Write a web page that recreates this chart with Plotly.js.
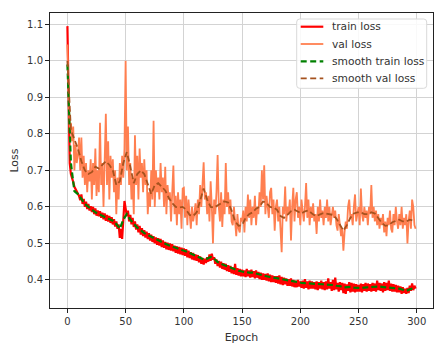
<!DOCTYPE html>
<html>
<head>
<meta charset="utf-8">
<script src="https://cdn.plot.ly/plotly-3.0.1.min.js"></script>
<style>html,body{margin:0;padding:0;background:#fff;}#chart{width:446px;height:355px;}</style>
</head>
<body>
<div id="chart"></div>
<script>
// Per-epoch values (epochs 0..299)
const trainLoss = [
1.095,0.84,0.72,0.69,0.675,0.668,0.655,0.648,0.64,0.635,
0.630,0.618,0.634,0.608,0.622,0.600,0.614,0.594,0.608,0.590,
0.602,0.586,0.600,0.580,0.596,0.576,0.590,0.574,0.588,0.570,
0.584,0.566,0.582,0.562,0.578,0.560,0.575,0.556,0.572,0.552,
0.566,0.546,0.560,0.540,0.552,0.515,0.540,0.512,0.585,0.616,
0.596,0.575,0.590,0.560,0.578,0.552,0.570,0.545,0.560,0.538,
0.552,0.530,0.548,0.524,0.542,0.520,0.536,0.516,0.532,0.512,
0.528,0.508,0.524,0.504,0.520,0.500,0.516,0.496,0.514,0.494,
0.512,0.490,0.508,0.488,0.504,0.484,0.502,0.482,0.500,0.480,
0.498,0.478,0.494,0.474,0.492,0.472,0.490,0.470,0.488,0.468,
0.486,0.466,0.484,0.462,0.480,0.460,0.476,0.456,0.474,0.454,
0.470,0.452,0.468,0.448,0.464,0.444,0.460,0.442,0.458,0.446,
0.462,0.450,0.470,0.452,0.472,0.456,0.462,0.444,0.456,0.438,
0.452,0.434,0.450,0.430,0.446,0.428,0.444,0.424,0.440,0.422,
0.438,0.418,0.434,0.416,0.444,0.414,0.432,0.412,0.430,0.410,
0.428,0.410,0.426,0.408,0.430,0.410,0.426,0.406,0.428,0.408,
0.424,0.404,0.426,0.406,0.422,0.402,0.420,0.400,0.418,0.400,
0.416,0.398,0.418,0.396,0.414,0.394,0.412,0.394,0.410,0.392,
0.410,0.390,0.412,0.388,0.408,0.386,0.406,0.388,0.404,0.384,
0.402,0.384,0.404,0.382,0.400,0.380,0.398,0.380,0.400,0.382,
0.396,0.378,0.398,0.376,0.402,0.378,0.396,0.374,0.398,0.376,
0.396,0.376,0.394,0.374,0.396,0.372,0.394,0.376,0.398,0.374,
0.394,0.372,0.396,0.374,0.404,0.376,0.394,0.370,0.400,0.372,
0.406,0.374,0.392,0.368,0.394,0.372,0.392,0.364,0.390,0.362,
0.388,0.370,0.394,0.366,0.392,0.368,0.390,0.366,0.388,0.368,
0.386,0.368,0.390,0.366,0.388,0.370,0.392,0.368,0.390,0.370,
0.388,0.368,0.392,0.370,0.390,0.368,0.398,0.372,0.392,0.370,
0.390,0.366,0.394,0.370,0.392,0.372,0.398,0.370,0.390,0.368,
0.388,0.368,0.386,0.366,0.384,0.366,0.382,0.362,0.380,0.364,
0.376,0.362,0.378,0.364,0.384,0.370,0.390,0.372,0.384,0.376
];
const valLoss = [
1.045,0.90,0.81,0.83,0.78,0.82,0.70,0.77,0.72,0.74,
0.79,0.70,0.79,0.68,0.74,0.66,0.72,0.64,0.70,0.67,
0.73,0.62,0.72,0.66,0.76,0.63,0.70,0.64,0.83,0.66,
0.72,0.60,0.76,0.855,0.66,0.78,0.62,0.74,0.68,0.73,
0.64,0.70,0.58,0.68,0.62,0.72,0.66,0.74,0.68,0.76,
1.00,0.70,0.82,0.66,0.72,0.62,0.68,0.58,0.796,0.66,
0.74,0.62,0.76,0.68,0.72,0.64,0.73,0.66,0.70,0.58,
0.64,0.60,0.70,0.62,0.836,0.60,0.70,0.64,0.68,0.62,
0.72,0.64,0.68,0.60,0.71,0.58,0.66,0.62,0.64,0.56,
0.64,0.713,0.58,0.63,0.55,0.64,0.58,0.62,0.54,0.65,
0.652,0.57,0.63,0.55,0.62,0.58,0.54,0.60,0.56,0.58,
0.61,0.55,0.62,0.58,0.66,0.60,0.69,0.722,0.62,0.64,
0.58,0.63,0.56,0.67,0.60,0.50,0.62,0.58,0.64,0.742,
0.60,0.56,0.64,0.545,0.62,0.58,0.72,0.60,0.64,0.58,
0.62,0.56,0.55,0.60,0.56,0.52,0.58,0.54,0.53,0.57,
0.56,0.59,0.53,0.60,0.56,0.634,0.57,0.62,0.55,0.60,
0.57,0.63,0.55,0.60,0.58,0.64,0.60,0.70,0.62,0.714,
0.58,0.63,0.60,0.57,0.64,0.652,0.58,0.62,0.535,0.60,
0.62,0.56,0.60,0.54,0.476,0.60,0.58,0.656,0.56,0.60,
0.58,0.62,0.508,0.60,0.652,0.56,0.62,0.64,0.57,0.60,
0.55,0.62,0.58,0.56,0.60,0.665,0.57,0.62,0.55,0.60,
0.57,0.61,0.56,0.58,0.526,0.60,0.56,0.62,0.57,0.59,
0.55,0.60,0.57,0.62,0.56,0.60,0.55,0.58,0.60,0.57,
0.59,0.55,0.535,0.58,0.55,0.52,0.54,0.48,0.53,0.56,
0.54,0.60,0.62,0.57,0.58,0.55,0.60,0.634,0.56,0.58,
0.60,0.55,0.65,0.58,0.56,0.60,0.57,0.59,0.55,0.60,
0.58,0.66,0.57,0.60,0.56,0.59,0.55,0.58,0.54,0.57,
0.55,0.58,0.53,0.56,0.52,0.57,0.55,0.59,0.54,0.53,
0.58,0.55,0.60,0.56,0.54,0.58,0.55,0.60,0.54,0.57,
0.55,0.58,0.50,0.56,0.59,0.54,0.62,0.60,0.55,0.54
];
// Smoothed curves read every 3 epochs (0,3,...,297)
const smoothStep = 3;
const smoothTrain = [
0.99,0.72,0.643,0.635,0.622,0.608,0.60,0.592,0.585,0.58,
0.575,0.571,0.567,0.562,0.553,0.54,0.565,0.58,0.565,0.553,
0.543,0.536,0.528,0.523,0.518,0.513,0.507,0.503,0.499,0.495,
0.491,0.488,0.484,0.481,0.478,0.474,0.470,0.466,0.461,0.456,
0.458,0.463,0.458,0.449,0.444,0.44,0.437,0.432,0.429,0.425,
0.423,0.421,0.42,0.42,0.417,0.415,0.413,0.41,0.408,0.406,
0.405,0.403,0.401,0.398,0.397,0.395,0.394,0.392,0.391,0.39,
0.39,0.389,0.388,0.388,0.387,0.387,0.386,0.384,0.383,0.379,
0.381,0.381,0.379,0.378,0.378,0.379,0.38,0.38,0.381,0.382,
0.381,0.38,0.38,0.379,0.378,0.376,0.373,0.37,0.374,0.377
];
const smoothVal = [
1.0,0.81,0.785,0.76,0.725,0.70,0.69,0.695,0.71,0.705,
0.715,0.725,0.715,0.70,0.66,0.67,0.72,0.75,0.71,0.665,
0.69,0.70,0.69,0.665,0.635,0.66,0.665,0.655,0.645,0.625,
0.61,0.60,0.598,0.60,0.592,0.578,0.575,0.585,0.62,0.65,
0.62,0.60,0.598,0.605,0.61,0.615,0.612,0.59,0.56,0.548,
0.55,0.57,0.58,0.585,0.595,0.60,0.615,0.61,0.60,0.598,
0.592,0.575,0.57,0.578,0.588,0.592,0.588,0.582,0.588,0.59,
0.582,0.575,0.578,0.582,0.582,0.58,0.578,0.568,0.55,0.535,
0.55,0.57,0.582,0.585,0.585,0.58,0.58,0.585,0.582,0.57,
0.556,0.548,0.55,0.558,0.562,0.565,0.56,0.56,0.565,0.562
];
const seriesNames = ['train loss','val loss','smooth train loss','smooth val loss'];
const xTickVals = [0,50,100,150,200,250,300];
const yTickVals = [0.4,0.5,0.6,0.7,0.8,0.9,1.0,1.1];

const epochs = trainLoss.map((_, i) => i);
const smoothEpochs = smoothTrain.map((_, i) => i * smoothStep);

const styles = [
  {color: '#ff0000', width: 2.2},
  {color: '#ff7f50', width: 1.8},
  {color: '#008000', width: 2.2, dash: '6px,3px'},
  {color: '#a5521e', width: 1.8, dash: '6px,3px'}
];
const traces = [
  {x: epochs, y: trainLoss, name: seriesNames[0], mode: 'lines', line: styles[0]},
  {x: epochs, y: valLoss, name: seriesNames[1], mode: 'lines', line: styles[1]},
  {x: smoothEpochs, y: smoothTrain, name: seriesNames[2], mode: 'lines', line: styles[2]},
  {x: smoothEpochs, y: smoothVal, name: seriesNames[3], mode: 'lines', line: styles[3]}
];

// Layout geometry (pixels)
const W = 446, H = 355, ML = 50, MR = 13, MT = 13, MB = 47;
const PW = W - ML - MR, PH = H - MT - MB;
const px = x => (x - ML) / PW;
const py = y => 1 - (y - MT) / PH;

// Hand-drawn legend box (matplotlib-style, rounded corners)
function roundedRect(x0, y0, x1, y1, r) {
  const X = px, Y = py;
  return 'M' + X(x0 + r) + ',' + Y(y0) +
    ' L' + X(x1 - r) + ',' + Y(y0) + ' Q' + X(x1) + ',' + Y(y0) + ' ' + X(x1) + ',' + Y(y0 + r) +
    ' L' + X(x1) + ',' + Y(y1 - r) + ' Q' + X(x1) + ',' + Y(y1) + ' ' + X(x1 - r) + ',' + Y(y1) +
    ' L' + X(x0 + r) + ',' + Y(y1) + ' Q' + X(x0) + ',' + Y(y1) + ' ' + X(x0) + ',' + Y(y1 - r) +
    ' L' + X(x0) + ',' + Y(y0 + r) + ' Q' + X(x0) + ',' + Y(y0) + ' ' + X(x0 + r) + ',' + Y(y0) + ' Z';
}
const legRows = [26.7, 44, 61.3, 78.3];
const shapes = [{
  type: 'path', xref: 'paper', yref: 'paper', path: roundedRect(296.7, 19, 426.7, 88.3, 3),
  fillcolor: 'rgba(255,255,255,0.85)', line: {color: '#d9d9d9', width: 1}, layer: 'above'
}];
const annotations = [];
legRows.forEach((ry, i) => {
  shapes.push({type: 'line', xref: 'paper', yref: 'paper', x0: px(300.7), x1: px(323.3), y0: py(ry), y1: py(ry),
    line: Object.assign({}, styles[i], {dash: styles[i].dash ? '6px,3.5px' : 'solid'}), layer: 'above'});
  annotations.push({xref: 'paper', yref: 'paper', x: px(330.2), y: py(ry), text: seriesNames[i],
    showarrow: false, xanchor: 'left', yanchor: 'middle',
    font: {family: 'DejaVu Sans, sans-serif', size: 10.7, color: '#333'}});
});

const font = {family: 'DejaVu Sans, sans-serif', size: 10, color: '#333'};
const axisCommon = {
  showline: true, mirror: true, linecolor: '#222', linewidth: 1,
  showgrid: true, gridcolor: '#d3d3d3', gridwidth: 1,
  ticks: 'outside', ticklen: 4, tickcolor: '#222', tickwidth: 1,
  zeroline: false, tickfont: font
};
const layout = {
  width: W, height: H,
  margin: {l: ML, r: MR, t: MT, b: MB},
  paper_bgcolor: '#fff', plot_bgcolor: '#fff',
  font: font,
  showlegend: false,
  shapes: shapes,
  annotations: annotations,
  xaxis: Object.assign({}, axisCommon, {
    range: [-14.95, 313.95], tickvals: xTickVals, ticktext: xTickVals.map(String),
    title: {text: 'Epoch', font: {family: 'DejaVu Sans, sans-serif', size: 11, color: '#333'}, standoff: 7}
  }),
  yaxis: Object.assign({}, axisCommon, {
    range: [0.323, 1.131], tickvals: yTickVals, ticktext: yTickVals.map(v => v.toFixed(1)),
    title: {text: 'Loss', font: {family: 'DejaVu Sans, sans-serif', size: 11, color: '#333'}, standoff: 6}
  })
};
Plotly.newPlot('chart', traces, layout, {displayModeBar: false, staticPlot: true});
</script>
</body>
</html>
